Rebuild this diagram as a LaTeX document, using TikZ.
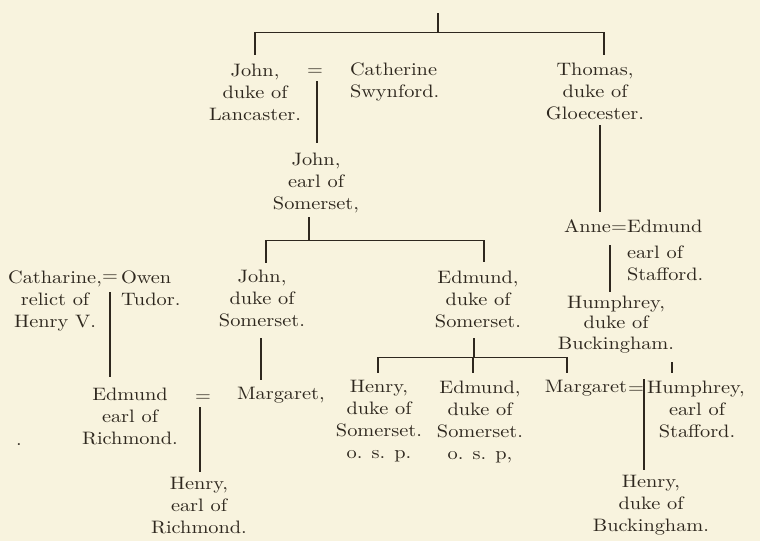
\documentclass[tikz,border=0pt]{standalone}
\usepackage{fontspec}
\setmainfont{lmroman10-regular.otf}[FakeStretch=1.13]
\definecolor{paper}{RGB}{248,243,222}
\definecolor{ink}{RGB}{46,39,30}
\tikzset{
  nm/.style={inner sep=0pt, outer sep=0pt, align=center, anchor=north, yshift=12.4pt, text=ink,
    font=\fontsize{18}{22}\selectfont},
  nml/.style={nm, align=left, anchor=north west},
  nmr/.style={nm, align=right, anchor=north east},
  eqs/.style={inner sep=0pt, outer sep=0pt, anchor=base, text=ink, font=\fontsize{18}{22}\selectfont},
  vline/.style={draw=ink, line width=1.7pt},
  hline/.style={draw=ink, line width=0.9pt},
}
\begin{document}
\begin{tikzpicture}[x=1pt, y=-1pt]
\fill[paper] (0,0) rectangle (760,541);
\useasboundingbox (0,0) rectangle (760,541);

% generation 1
\node[nm] (johnL) at (255,76) {John,\\duke of\\Lancaster.};
\node[eqs] (eq1) at (315,75) {=};
\node[nml] (cathS) at (350,75) {Catherine\\Swynford.};
\node[nm] (thomas) at (595,75) {Thomas,\\duke of\\Gloecester.};

% generation 2
\node[nm] (johnS) at (316,165) {John,\\earl of\\Somerset,};
\node[nmr] (anne) at (611,232) {Anne};
\node[eqs] (eq2) at (619,232) {=};
\node[nml] (edmSt) at (627,232) {Edmund};
\node[nml] (edmSt2) at (627,258) {earl of\\Stafford.};

% generation 3
\node[nm] (cathV) at (55,283) {Catharine,\\relict of\\Henry V.};
\node[eqs] (eq3) at (110,281) {=};
\node[nml] (owen) at (121,283) {Owen\\Tudor.};
\node[nm] (johnD) at (262,282) {John,\\duke of\\Somerset.};
\node[nm] (edmD) at (478,283) {Edmund,\\duke of\\Somerset.};
\node[nm, font=\fontsize{18}{20.5}\selectfont] (humB) at (616,308) {Humphrey,\\duke of\\Buckingham.};

% generation 4
\node[nm] (edmR) at (130,400) {Edmund\\earl of\\Richmond.};
\node[eqs] (eq4) at (203,401) {=};
\node[nml] (marg1) at (237,400) {Margaret,};
\node[eqs] (dot) at (19,445) {.};
\node[nm] (henS) at (379,393) {Henry,\\duke of\\Somerset.\\o. s. p.};
\node[nm] (edmS) at (480,393) {Edmund,\\duke of\\Somerset.\\o. s. p,};
\node[nmr] (marg2) at (627,393) {Margaret};
\node[eqs] (eq5) at (636,393) {=};
\node[nml] (humS) at (647,393) {Humphrey,};
\node[nm] (humS2) at (697,415) {earl of\\Stafford.};

% generation 5
\node[nm] (henR) at (199,490) {Henry,\\earl of\\Richmond.};
\node[nm] (henB) at (651,488) {Henry,\\duke of\\Buckingham.};

% connector points
\coordinate (t0) at (438,13);
\coordinate (t1) at (438,32);
\coordinate (b1l) at (255,32);
\coordinate (b1r) at (604,32);
\coordinate (d1l) at (255,55);
\coordinate (d1r) at (604,55);
\coordinate (e1a) at (317,81);
\coordinate (e1b) at (317,143);
\coordinate (th1) at (600,125);
\coordinate (th2) at (600,212);
\coordinate (s1) at (309,217);
\coordinate (s2) at (309,240);
\coordinate (b2l) at (266,240);
\coordinate (b2r) at (484,240);
\coordinate (d2l) at (266,263);
\coordinate (d2r) at (484,262);
\coordinate (e2a) at (610,245);
\coordinate (e2b) at (610,292);
\coordinate (e3a) at (110,292);
\coordinate (e3b) at (110,377);
\coordinate (jd1) at (261,338);
\coordinate (jd2) at (261,380);
\coordinate (e4a) at (200,407);
\coordinate (e4b) at (200,472);
\coordinate (ed1) at (474,338);
\coordinate (ed2) at (474,357);
\coordinate (b3l) at (378,357);
\coordinate (b3m) at (473,357);
\coordinate (b3r) at (567,357);
\coordinate (d3l) at (378,373);
\coordinate (d3m) at (473,373);
\coordinate (d3r) at (567,373);
\coordinate (hb1) at (672,362);
\coordinate (hb2) at (672,373);
\coordinate (e5a) at (644,379);
\coordinate (e5b) at (644,470);

% connectors
\draw[vline] (t0) -- (t1);
\draw[hline] (b1l) -- (b1r);
\draw[vline] (b1l) -- (d1l);
\draw[vline] (b1r) -- (d1r);
\draw[vline] (e1a) -- (e1b);
\draw[vline] (th1) -- (th2);
\draw[vline] (s1) -- (s2);
\draw[hline] (b2l) -- (b2r);
\draw[vline] (b2l) -- (d2l);
\draw[vline] (b2r) -- (d2r);
\draw[vline] (e2a) -- (e2b);
\draw[vline] (e3a) -- (e3b);
\draw[vline] (jd1) -- (jd2);
\draw[vline] (e4a) -- (e4b);
\draw[vline] (ed1) -- (ed2);
\draw[hline] (b3l) -- (b3r);
\draw[vline] (b3l) -- (d3l);
\draw[vline] (b3m) -- (d3m);
\draw[vline] (b3r) -- (d3r);
\draw[vline] (hb1) -- (hb2);
\draw[vline] (e5a) -- (e5b);
\end{tikzpicture}
\end{document}
